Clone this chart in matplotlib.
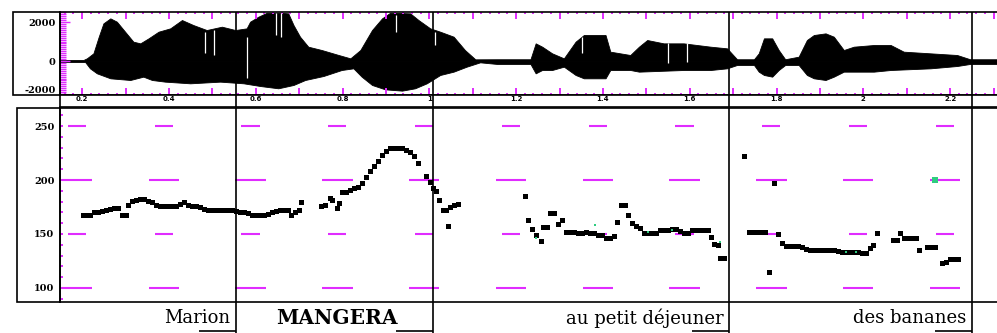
import matplotlib
matplotlib.use('Agg')
import matplotlib.pyplot as plt
from matplotlib.patches import Rectangle
from matplotlib.ticker import MultipleLocator
import numpy as np

# waveform envelope (s, amplitude)
env_up_t = [0.149, 0.203, 0.211, 0.226, 0.238, 0.249, 0.265, 0.280, 0.299, 0.318, 0.334, 0.353,
            0.376, 0.403, 0.430, 0.456, 0.487, 0.522, 0.553, 0.579, 0.587, 0.606, 0.626, 0.656,
            0.675, 0.687, 0.702, 0.721, 0.752, 0.791, 0.818, 0.841, 0.868, 0.891, 0.910, 0.956,
            0.975, 1.002, 1.025, 1.056, 1.082, 1.106, 1.156, 1.233, 1.245, 1.260, 1.283, 1.310,
            1.337, 1.356, 1.406, 1.417, 1.463, 1.483, 1.502, 1.540, 1.586, 1.648, 1.686, 1.709,
            1.748, 1.759, 1.771, 1.790, 1.805, 1.820, 1.851, 1.870, 1.886, 1.913, 1.932, 1.955,
            1.978, 2.024, 2.063, 2.093, 2.155, 2.216, 2.246, 2.308]
env_up = [54, 54, 139, 395, 1231, 1932, 2189, 2018, 1504, 992, 906, 1163,
          1504, 1676, 2103, 1847, 1590, 1761, 1590, 1676, 2018, 2274, 2480, 2480,
          2445, 1847, 1248, 735, 564, 308, 137, 564, 1590, 2189, 2480, 2445,
          2103, 1676, 1504, 1248, 564, 86, 90, 90, 906, 735, 393, 137,
          992, 1334, 1334, 479, 308, 735, 1077, 906, 906, 735, 650, 90,
          90, 393, 1163, 1163, 564, 90, 222, 1077, 1334, 1419, 1248, 564,
          735, 821, 821, 479, 393, 308, 90, 90]
env_lo_t = [0.149, 0.207, 0.218, 0.234, 0.265, 0.311, 0.341, 0.361, 0.391, 0.449, 0.518, 0.572,
            0.610, 0.652, 0.687, 0.714, 0.756, 0.798, 0.825, 0.844, 0.868, 0.898, 0.937, 0.967,
            0.994, 1.025, 1.056, 1.086, 1.117, 1.156, 1.233, 1.245, 1.260, 1.283, 1.310, 1.337,
            1.356, 1.406, 1.417, 1.463, 1.483, 1.586, 1.648, 1.686, 1.709, 1.748, 1.759, 1.771,
            1.790, 1.805, 1.820, 1.851, 1.870, 1.886, 1.913, 1.932, 1.955, 2.024, 2.063, 2.155,
            2.216, 2.246, 2.308]
env_lo = [-54, -54, -376, -633, -889, -975, -804, -975, -1060, -1146, -1060, -1146,
          -1283, -1402, -1231, -975, -770, -462, -376, -804, -1231, -1454, -1522, -1402,
          -1146, -718, -547, -291, -68, -152, -152, -633, -462, -462, -291, -718,
          -889, -889, -462, -462, -547, -462, -462, -376, -205, -205, -547, -718,
          -804, -462, -205, -205, -718, -889, -975, -804, -547, -547, -462, -376,
          -257, -152, -152]

# dropouts in the waveform (s, top, bottom)
gap_t = [0.483, 0.503, 0.581, 0.647, 0.659, 0.924, 1.014, 1.352, 1.550, 1.594]
gap_top = [1503, 1590, 1247, 2447, 2447, 2360, 1504, 1248, 906, 906]
gap_bot = [395, 308, -889, 1334, 1247, 1504, 821, 393, -120, -40]

# F0 track (s, Hz)
pitch_t = [0.202, 0.209, 0.218, 0.228, 0.237, 0.246, 0.255, 0.265, 0.274, 0.283, 0.292, 0.301,
           0.306, 0.315, 0.324, 0.334, 0.343, 0.352, 0.361, 0.371, 0.380, 0.389, 0.398, 0.407,
           0.417, 0.426, 0.435, 0.444, 0.453, 0.463, 0.472, 0.481, 0.490, 0.500, 0.509, 0.518,
           0.527, 0.536, 0.546, 0.555, 0.564, 0.573, 0.583, 0.592, 0.601, 0.610, 0.619, 0.629,
           0.638, 0.647, 0.656, 0.665, 0.675, 0.682, 0.691, 0.700, 0.705,
           0.751, 0.760, 0.771, 0.776, 0.788, 0.792, 0.799, 0.808, 0.818, 0.827, 0.836, 0.845,
           0.854, 0.864, 0.873, 0.882, 0.891, 0.900, 0.910, 0.919, 0.928, 0.937, 0.947, 0.956,
           0.965, 0.974, 0.993, 1.002, 1.009, 1.016, 1.023, 1.032, 1.039, 1.043, 1.048, 1.057,
           1.066,
           1.221, 1.228, 1.237, 1.246, 1.258, 1.262, 1.271, 1.278, 1.288, 1.297, 1.306, 1.315,
           1.324, 1.334, 1.343, 1.352, 1.361, 1.371, 1.380, 1.389, 1.398, 1.408, 1.417, 1.426,
           1.433, 1.442, 1.451, 1.458, 1.467, 1.476, 1.486, 1.495, 1.504, 1.513, 1.523, 1.532,
           1.541, 1.550, 1.559, 1.569, 1.578, 1.587, 1.596, 1.605, 1.615, 1.624, 1.633, 1.642,
           1.649, 1.656, 1.665, 1.670, 1.679,
           1.725, 1.737, 1.746, 1.755, 1.765, 1.774, 1.783, 1.794, 1.804, 1.813, 1.822, 1.831,
           1.841, 1.850, 1.859, 1.868, 1.877, 1.887, 1.896, 1.905, 1.914, 1.924, 1.933, 1.942,
           1.951, 1.960, 1.970, 1.979, 1.988, 1.997, 2.006, 2.016, 2.022, 2.032, 2.069, 2.078,
           2.085, 2.094, 2.103, 2.112, 2.122, 2.129, 2.147, 2.156, 2.165, 2.182, 2.191, 2.200,
           2.209, 2.218]
pitch_hz = [167.6, 167.6, 167.6, 170.0, 170.5, 171.0, 172.0, 173.5, 174.0, 173.8, 167.6, 167.6,
            176.9, 181.0, 181.5, 182.0, 182.0, 181.0, 179.5, 177.0, 176.0, 176.0, 176.0, 176.0,
            176.0, 178.0, 179.9, 176.5, 176.0, 175.5, 175.0, 173.5, 172.5, 172.2, 172.2, 172.2,
            172.2, 172.0, 172.0, 171.0, 170.6, 170.6, 169.0, 167.6, 167.6, 167.6, 167.6, 168.5,
            170.0, 171.5, 172.2, 172.2, 172.2, 167.6, 170.6, 172.0, 180.0,
            175.9, 177.0, 183.0, 181.5, 173.8, 179.0, 189.2, 189.2, 191.0, 192.3, 193.5, 197.0,
            203.0, 208.0, 213.0, 218.0, 223.0, 227.0, 229.4, 229.4, 229.4, 229.4, 228.0, 226.0,
            222.0, 216.0, 203.5, 198.4, 193.0, 190.0, 181.5, 172.2, 172.2, 157.7, 175.3, 176.5,
            177.8,
            185.2, 163.0, 154.3, 149.1, 143.8, 156.8, 156.8, 169.7, 169.7, 159.3, 163.0, 152.2,
            152.2, 152.2, 150.6, 150.6, 152.2, 150.6, 150.6, 149.1, 149.1, 146.0, 146.0, 148.5,
            161.4, 176.9, 176.9, 167.6, 159.9, 157.0, 155.3, 151.2, 151.2, 151.2, 151.2, 153.7,
            153.7, 153.7, 154.5, 154.5, 153.0, 151.2, 151.2, 153.7, 153.7, 153.7, 153.7, 153.7,
            147.5, 141.0, 139.8, 127.8, 127.8,
            222.2, 152.2, 152.2, 152.2, 152.2, 152.2, 115.1, 197.0, 150.0, 141.4, 138.9, 138.9,
            138.9, 138.9, 137.5, 136.0, 135.2, 135.2, 135.2, 135.2, 135.2, 135.2, 135.2, 134.0,
            133.6, 133.6, 133.6, 133.6, 133.6, 132.1, 132.1, 136.8, 139.8, 150.6, 144.4, 144.4,
            150.6, 146.0, 146.0, 146.0, 146.0, 135.2, 137.7, 137.7, 137.7, 122.9, 124.5, 126.6,
            126.6, 126.6]

# frames flagged in green
flag_t = [1.246, 1.382, 1.504, 1.559, 1.670, 1.961, 1.984]
flag_hz = [146.3, 158.3, 152.0, 153.7, 143.0, 133.0, 133.0]
mark_t = [2.165]
mark_hz = [200.0]

words = ['Marion', 'MANGERA', 'au petit déjeuner', 'des bananes']
word_edges = [0.149, 0.555, 1.009, 1.691, 2.251]

time_ticks = [0.2, 0.4, 0.6, 0.8, 1.0, 1.2, 1.4, 1.6, 1.8, 2.0, 2.2]
time_labels = ['0.2', '0.4', '0.6', '0.8', '1', '1.2', '1.4', '1.6', '1.8', '2', '2.2']
amp_ticks = [2000, 0]
amp_labels = ['2000', '0']
hz_ticks = [100, 150, 200, 250]

MAG = '#e02cff'
T0, T1 = 0.149, 2.308
W, H = 997, 333

fig = plt.figure(figsize=(W / 100, H / 100), dpi=100)


def box(x0, y0, x1, y1):
    # rectangle in pixel coords, origin top left
    return [x0 / W, 1 - y1 / H, (x1 - x0) / W, (y1 - y0) / H]


ax_w = fig.add_axes(box(60, 12, 997, 95))
ax_s = fig.add_axes(box(60, 95, 997, 107))
ax_p = fig.add_axes(box(60, 108, 997, 302))
ax_l = fig.add_axes(box(60, 302, 997, 333))

for ax in (ax_w, ax_s, ax_p, ax_l):
    ax.set_xlim(T0, T1)
    for sp in ax.spines.values():
        sp.set_linewidth(1.2)
    ax.spines['right'].set_visible(False)

# label boxes on the left
for x0, y0, y1 in [(13, 12, 95), (17, 108, 302)]:
    b = box(x0, y0, 60, y1)
    fig.add_artist(Rectangle((b[0], b[1]), b[2], b[3], fill=False, lw=1.2,
                             ec='black', transform=fig.transFigure))

# --- waveform ---
ax_w.fill_between(env_up_t, 0, env_up, color='black', lw=0.6)
ax_w.fill_between(env_lo_t, env_lo, 0, color='black', lw=0.6)
ax_w.vlines(gap_t, gap_bot, gap_top, color='white', lw=0.9)
ax_w.set_ylim(-1745, 2515)
ax_w.set_yticks(amp_ticks)
ax_w.set_yticklabels(amp_labels, fontfamily='DejaVu Serif', fontweight='bold', fontsize=7)
ax_w.text(-0.004, 0.06, '-2000', transform=ax_w.transAxes, ha='right', va='center',
          fontfamily='DejaVu Serif', fontweight='bold', fontsize=7)
ax_w.yaxis.set_minor_locator(MultipleLocator(100))
ax_w.tick_params(axis='y', which='major', direction='in', color=MAG, length=7, width=1, pad=3)
ax_w.tick_params(axis='y', which='minor', direction='in', color=MAG, length=4, width=1)
ax_w.xaxis.set_major_locator(MultipleLocator(0.1))
ax_w.xaxis.set_minor_locator(MultipleLocator(0.02))
ax_w.tick_params(axis='x', which='both', direction='in', top=True, bottom=True,
                 labelbottom=False, color=MAG, width=1.4)
ax_w.tick_params(axis='x', which='major', length=5)
ax_w.tick_params(axis='x', which='minor', length=1.5)

# --- time strip ---
ax_s.set_yticks([])
ax_s.set_xticks(time_ticks)
ax_s.set_xticklabels(time_labels, fontfamily='DejaVu Sans', fontweight='bold', fontsize=5)
ax_s.tick_params(axis='x', length=0, pad=-8)

# --- F0 panel ---
centers = np.array(time_ticks) - 0.012
for level in hz_ticks:
    w = 0.07 if level % 100 == 0 else 0.042
    ax_p.hlines([level] * len(centers), centers - w / 2, centers + w / 2,
                color=MAG, lw=1.5, zorder=1)
ax_p.plot(pitch_t, pitch_hz, 's', color='black', ms=3.6, mew=0, zorder=3)
ax_p.plot(flag_t, flag_hz, 's', color='#2ecc80', ms=1.6, mew=0, zorder=4)
ax_p.plot(mark_t, mark_hz, 's', color='#2ecc80', ms=5, mew=0, zorder=4)
ax_p.set_ylim(87, 266.7)
ax_p.set_yticks(hz_ticks)
ax_p.set_yticklabels([str(v) for v in hz_ticks], fontfamily='DejaVu Serif',
                     fontweight='bold', fontsize=7)
ax_p.yaxis.set_minor_locator(MultipleLocator(10))
ax_p.tick_params(axis='y', which='both', direction='in', color=MAG, length=2, width=1.4, pad=4)
ax_p.set_xticks([])

# segment boundaries
for ax in (ax_w, ax_s, ax_p, ax_l):
    for b in word_edges[1:]:
        ax.axvline(b, color='black', lw=1.2, zorder=5)

# --- word row ---
ax_l.set_ylim(0, 1)
ax_l.axis('off')
for i, word in enumerate(words):
    left, right = word_edges[i], word_edges[i + 1]
    if word.isupper():
        ax_l.text((left + right) / 2 + 0.005, 0.47, word, ha='center', va='center',
                  fontfamily='DejaVu Serif', fontweight='heavy', fontsize=14.5)
    else:
        ax_l.text(right - 0.014, 0.47, word, ha='right', va='center',
                  fontfamily='DejaVu Serif', fontsize=13)
    ax_l.hlines(0.06, right - 0.085, right, color='black', lw=1.2)

fig.savefig('out.png', dpi=100)
